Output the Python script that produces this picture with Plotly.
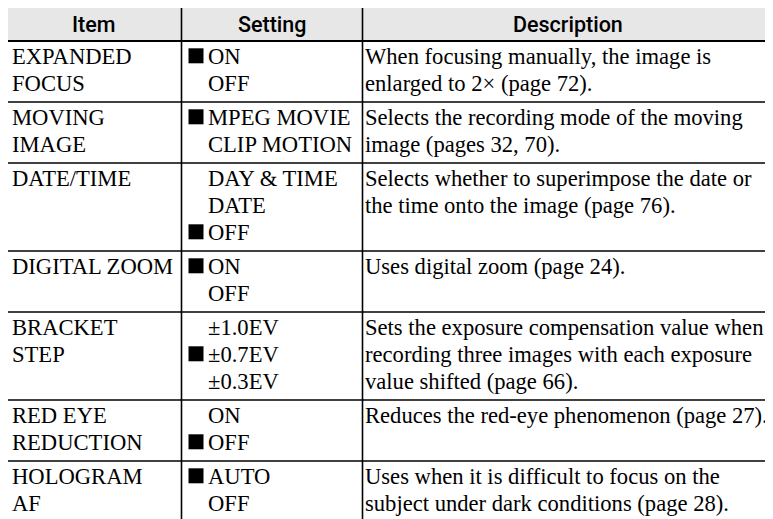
import plotly.graph_objects as go

# ---- data ----
headers = ["Item", "Setting", "Description"]
items = [
    ["EXPANDED", "FOCUS"],
    ["MOVING", "IMAGE"],
    ["DATE/TIME"],
    ["DIGITAL ZOOM"],
    ["BRACKET", "STEP"],
    ["RED EYE", "REDUCTION"],
    ["HOLOGRAM", "AF"],
]
settings = [
    ["ON", "OFF"],
    ["MPEG MOVIE", "CLIP MOTION"],
    ["DAY & TIME", "DATE", "OFF"],
    ["ON", "OFF"],
    ["±1.0EV", "±0.7EV", "±0.3EV"],
    ["ON", "OFF"],
    ["AUTO", "OFF"],
]
defaults = [0, 0, 2, 0, 1, 1, 0]
descriptions = [
    ["When focusing manually, the image is", "enlarged to 2× (page 72)."],
    ["Selects the recording mode of the moving", "image (pages 32, 70)."],
    ["Selects whether to superimpose the date or", "the time onto the image (page 76)."],
    ["Uses digital zoom (page 24)."],
    ["Sets the exposure compensation value when",
     "recording three images with each exposure",
     "value shifted (page 66)."],
    ["Reduces the red-eye phenomenon (page 27)."],
    ["Uses when it is difficult to focus on the",
     "subject under dark conditions (page 28)."],
]

# ---- layout constants (page pixel coordinates) ----
PAGE_W, PAGE_H, BODY_MARGIN = 773, 519, 8
X_LEFT, X_C1, X_C2, X_RIGHT = 7, 181.5, 362.5, 773
Y_TOP, HEADER_H = 7, 34
LINE_H, ROW_PAD = 27, 7
FIRST_OFF = 15.8
SERIF = "Liberation Serif, Times New Roman, serif"
SANS = "Roboto, Liberation Sans, Arial, sans-serif"
FS = 22.6

fig = go.Figure()
shapes = []
ann = []

y_hdr_bot = Y_TOP + HEADER_H
shapes.append(dict(type="rect", x0=X_LEFT, x1=X_RIGHT, y0=Y_TOP, y1=y_hdr_bot,
                   fillcolor="#e7e7e7", line=dict(width=0), layer="below"))
col_bounds = [(X_LEFT, X_C1), (X_C1, X_C2), (X_C2, X_RIGHT)]
for h, (a, b) in zip(headers, col_bounds):
    ann.append(dict(x=(a + b) / 2, y=Y_TOP + HEADER_H / 2 + 0.5, text=h, showarrow=False,
                    xanchor="center", yanchor="middle",
                    font=dict(family=SANS, size=21.5, color="black", weight=500)))

row_tops = []
y = y_hdr_bot
sq_x, sq_y = [], []
for i in range(len(items)):
    n = max(len(items[i]), len(settings[i]), len(descriptions[i]))
    row_tops.append(y)
    for k, t in enumerate(items[i]):
        ann.append(dict(x=X_LEFT + 3, y=y + FIRST_OFF + k * LINE_H, text=t, showarrow=False,
                        xanchor="left", yanchor="middle", font=dict(family=SERIF, size=FS, color="black")))
    for k, t in enumerate(settings[i]):
        yy = y + FIRST_OFF + k * LINE_H
        ann.append(dict(x=X_C1 + 24.5, y=yy, text=t, showarrow=False,
                        xanchor="left", yanchor="middle", font=dict(family=SERIF, size=FS, color="black")))
        if k == defaults[i]:
            sq_x.append(X_C1 + 14.5)
            sq_y.append(yy - 1)
    for k, t in enumerate(descriptions[i]):
        ann.append(dict(x=X_C2 + 0.5, y=y + FIRST_OFF + k * LINE_H, text=t, showarrow=False,
                        xanchor="left", yanchor="middle", font=dict(family=SERIF, size=FS, color="black")))
    y += ROW_PAD + n * LINE_H
y_bottom = y

lw = 1.6
shapes.append(dict(type="line", x0=X_LEFT, x1=X_RIGHT, y0=Y_TOP, y1=Y_TOP, line=dict(color="black", width=lw)))
shapes.append(dict(type="line", x0=X_LEFT, x1=X_RIGHT, y0=y_hdr_bot, y1=y_hdr_bot, line=dict(color="black", width=2)))
for t in row_tops[1:] + [y_bottom]:
    shapes.append(dict(type="line", x0=X_LEFT, x1=X_RIGHT, y0=t, y1=t, line=dict(color="black", width=lw)))
for xv in [X_LEFT, X_C1, X_C2]:
    shapes.append(dict(type="line", x0=xv, x1=xv, y0=Y_TOP, y1=y_bottom, line=dict(color="black", width=lw)))

fig.add_trace(go.Scatter(x=sq_x, y=sq_y, mode="markers", hoverinfo="skip",
                         marker=dict(symbol="square", size=15, color="black", line=dict(width=0))))

fig.update_layout(
    width=PAGE_W - BODY_MARGIN, height=PAGE_H - BODY_MARGIN,
    margin=dict(l=0, r=0, t=0, b=0),
    paper_bgcolor="white", plot_bgcolor="white", showlegend=False,
    xaxis=dict(range=[BODY_MARGIN, PAGE_W], visible=False, fixedrange=True),
    yaxis=dict(range=[PAGE_H, BODY_MARGIN], visible=False, fixedrange=True),
    shapes=shapes, annotations=ann,
)
fig.write_html("out.html")
